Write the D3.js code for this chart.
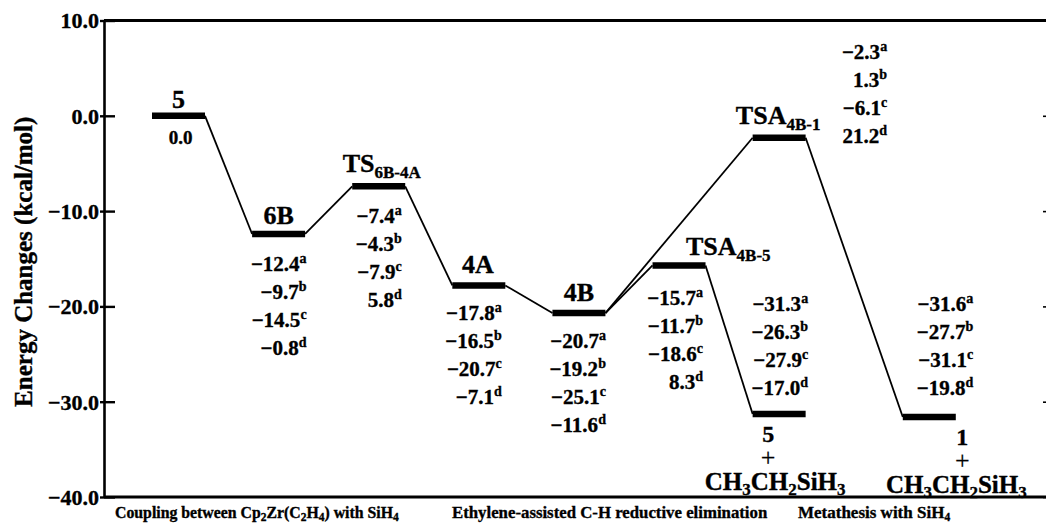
<!DOCTYPE html>
<html>
<head>
<meta charset="utf-8">
<script src="https://cdn.jsdelivr.net/npm/d3@7/dist/d3.min.js"></script>
<style>
  body { margin: 0; background: #fff; }
  svg { display: block; font-family: "Liberation Serif", "Times New Roman", serif; font-weight: bold; }
  svg text { font-family: "Liberation Serif", "Times New Roman", serif; fill: #000; stroke: #000; stroke-width: 0.35px; }
</style>
</head>
<body>
<svg id="chart" width="1046" height="523"></svg>
<script>
// energy levels, kcal/mol (a-d = four levels of theory)
const levelNames = ['5', '6B', 'TS_{6B-4A}', '4A', '4B', 'TSA_{4B-5}', '5', 'TSA_{4B-1}', '1'];
const levelSlots = [0, 1, 2, 3, 4, 5, 6, 6, 7.5];
const energyA = [0.0, -12.4, -7.4, -17.8, -20.7, -15.7, -31.3, -2.3, -31.6];
const energyB = [null, -9.7, -4.3, -16.5, -19.2, -11.7, -26.3, 1.3, -27.7];
const energyC = [null, -14.5, -7.9, -20.7, -25.1, -18.6, -27.9, -6.1, -31.1];
const energyD = [null, -0.8, 5.8, -7.1, -11.6, 8.3, -17.0, 21.2, -19.8];
const supLetters = ['a', 'b', 'c', 'd'];
const links = [[0, 1], [1, 2], [2, 3], [3, 4], [4, 5], [5, 6], [4, 7], [7, 8]];
const productFormula = 'CH_3CH_2SiH_3';
const yTicks = [10, 0, -10, -20, -30, -40];
const stageLabels = ['Coupling between Cp_2Zr(C_2H_4) with SiH_4',
                     'Ethylene-assisted C-H reductive elimination',
                     'Metathesis with SiH_4'];

// placement of the texts around each bar (pixels)
const nameLayout = [
  { dx: 0, dy: -8, anchor: 'middle' },
  { dx: 0, dy: -10, anchor: 'middle' },
  { dx: 3, dy: -14, anchor: 'middle' },
  { dx: -1, dy: -12, anchor: 'middle' },
  { dx: 0, dy: -12, anchor: 'middle' },
  { dx: 7, dy: -10, anchor: 'start' },
  null,
  { dx: -1, dy: -14, anchor: 'middle' },
  null
];
const valueLayout = [
  { dx: 2, dy: 28 },
  { dx: 28, dy: 37 },
  { dx: 23, dy: 37 },
  { dx: 23, dy: 35 },
  { dx: 27, dy: 35 },
  { dx: 24, dy: 40 },
  { dx: 29, dy: -103 },
  { dx: 108, dy: -79 },
  { dx: 44, dy: -106 }
];
const productLayout = { 6: { n: -11, f: -4 }, 8: { n: 33, f: 27 } };
const stageX = [115, 452, 798];
const stageSize = [15.8, 16.8, 17];

const width = 1046, height = 523;
const margin = { left: 104, right: -8, top: 20.5, bottom: 26 };
const halfBar = 26.5;

const svg = d3.select('#chart');

const x = d3.scaleLinear().domain([0, 7.5]).range([178.5, 929.3]);
const y = d3.scaleLinear().domain([-40, 10]).range([height - margin.bottom, margin.top]);
const fmt = d3.format('.1f');

// write "_x" / "_{..}" as subscript and "^x" as superscript
function rich(text, str, small, sub, sup) {
  let cur = 0;
  (str.match(/[_^]\{[^}]*\}|[_^].|[^_^]+/g) || []).forEach(p => {
    let target = 0, txt = p, isSmall = false;
    if (p[0] === '_' || p[0] === '^') {
      target = p[0] === '_' ? sub : -sup;
      txt = p.slice(1).replace(/[{}]/g, '');
      isSmall = true;
    }
    const t = text.append('tspan').attr('dy', target - cur).text(txt);
    if (isSmall) t.attr('font-size', small);
    cur = target;
  });
}

// frame
const xRight = width - margin.right;
svg.append('g')
  .attr('transform', `translate(${margin.left},0)`)
  .call(d3.axisLeft(y).tickValues(yTicks).tickFormat(fmt).tickSizeInner(-11).tickSizeOuter(0).tickPadding(5))
  .attr('font-family', null).attr('font-size', null)
  .call(g => g.select('.domain').attr('stroke-width', 2.6))
  .call(g => g.selectAll('.tick line').attr('x1', -4).attr('stroke-width', 2.4))
  .call(g => g.selectAll('.tick text')
    .attr('dy', '0.34em')
    .style('font-size', '22px').style('font-weight', 'bold'));

svg.append('g')
  .attr('transform', `translate(${xRight},0)`)
  .call(d3.axisLeft(y).tickValues(yTicks).tickFormat('').tickSizeInner(11).tickSizeOuter(0))
  .call(g => g.select('.domain').attr('stroke-width', 2.6))
  .call(g => g.selectAll('.tick line').attr('stroke-width', 1.6));

[10, -40].forEach(v => {
  svg.append('line')
    .attr('x1', margin.left).attr('x2', xRight)
    .attr('y1', y(v)).attr('y2', y(v))
    .attr('stroke', '#000').attr('stroke-width', 2.8);
});

// axis title
svg.append('text')
  .attr('transform', `translate(32,${(y(10) + y(-40)) / 2 + 3}) rotate(-90)`)
  .attr('text-anchor', 'middle')
  .attr('font-size', 25)
  .text('Energy Changes (kcal/mol)');

// connectors between levels
svg.append('g')
  .selectAll('line')
  .data(links)
  .join('line')
  .attr('x1', d => x(levelSlots[d[0]]) + halfBar)
  .attr('y1', d => y(energyA[d[0]]))
  .attr('x2', d => x(levelSlots[d[1]]) - halfBar)
  .attr('y2', d => y(energyA[d[1]]))
  .attr('stroke', '#000')
  .attr('stroke-width', 1.8);

// level bars
svg.append('g')
  .selectAll('line')
  .data(energyA)
  .join('line')
  .attr('x1', (d, i) => x(levelSlots[i]) - halfBar)
  .attr('x2', (d, i) => x(levelSlots[i]) + halfBar)
  .attr('y1', d => y(d))
  .attr('y2', d => y(d))
  .attr('stroke', '#000')
  .attr('stroke-width', 6.5);

// level names
levelNames.forEach((name, i) => {
  const cx = x(levelSlots[i]), cy = y(energyA[i]);
  const lay = nameLayout[i];
  if (lay) {
    const t = svg.append('text')
      .attr('x', cx + lay.dx).attr('y', cy + lay.dy)
      .attr('text-anchor', lay.anchor)
      .attr('font-size', 26);
    rich(t, name, 17, 6, 0);
  } else {
    // products: "n + CH3CH2SiH3" below the bar
    const p = productLayout[i];
    svg.append('text')
      .attr('x', cx + p.n).attr('y', cy + 28)
      .attr('text-anchor', 'middle').attr('font-size', 24)
      .text(name);
    svg.append('text')
      .attr('x', cx + p.n).attr('y', cy + 52)
      .attr('text-anchor', 'middle').attr('font-size', 26).attr('font-weight', 'normal')
      .style('stroke-width', '0.2px')
      .text('+');
    const f = svg.append('text')
      .attr('x', cx + p.f).attr('y', cy + 76)
      .attr('text-anchor', 'middle').attr('font-size', 25);
    rich(f, productFormula, 17, 5, 0);
  }
});

// energies at the four levels of theory
const series = [energyA, energyB, energyC, energyD];
levelNames.forEach((name, i) => {
  const cx = x(levelSlots[i]), cy = y(energyA[i]);
  const lay = valueLayout[i];
  series.forEach((s, k) => {
    if (s[i] === null) return;
    const t = svg.append('text')
      .attr('y', cy + lay.dy + k * 28)
      .attr('font-size', 21);
    if (energyB[i] === null) {
      t.attr('x', cx + lay.dx).attr('text-anchor', 'middle').attr('font-size', 19).text(fmt(s[i]));
    } else {
      t.attr('x', cx + lay.dx).attr('text-anchor', 'end');
      rich(t, fmt(s[i]) + '^' + supLetters[k], 14, 0, 8);
    }
  });
});

// stage captions under the axis
stageLabels.forEach((s, i) => {
  const t = svg.append('text')
    .attr('x', stageX[i]).attr('y', 518)
    .attr('font-size', stageSize[i]);
  rich(t, s, 11.5, 3, 0);
});
</script>
</body>
</html>
